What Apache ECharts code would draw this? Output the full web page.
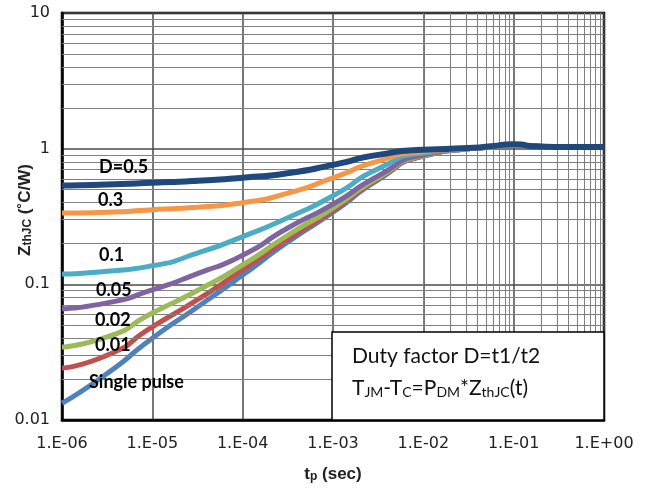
<!DOCTYPE html>
<html><head><meta charset="utf-8">
<script src="https://cdn.jsdelivr.net/npm/echarts@6/dist/echarts.min.js"></script>
<style>html,body{margin:0;padding:0;background:#fff}#c{width:650px;height:489px}</style>
</head><body><div id="c"></div>
<script>
// pulse width t_p (sec)
const tp = [1e-6, 3.16e-6, 1e-5, 3.16e-5, 1e-4, 3.16e-4, 1e-3, 3.16e-3, 1e-2, 3.16e-2, 5.6e-2, 1e-1, 1.78e-1, 3.16e-1, 1];
// Z_thJC (°C/W) per duty factor
const dSingle = [0.0133, 0.022, 0.040, 0.068, 0.117, 0.205, 0.34, 0.59, 0.88, 1.0, 1.03, 1.07, 1.04, 1.03, 1.03];
const d001 = [0.0242, 0.030, 0.0486, 0.077, 0.128, 0.215, 0.35, 0.60, 0.88, 1.0, 1.03, 1.07, 1.04, 1.03, 1.03];
const d002 = [0.0345, 0.041, 0.0615, 0.090, 0.139, 0.230, 0.365, 0.61, 0.89, 1.0, 1.03, 1.07, 1.04, 1.03, 1.03];
const d005 = [0.066, 0.073, 0.091, 0.120, 0.164, 0.26, 0.39, 0.63, 0.90, 1.0, 1.03, 1.07, 1.04, 1.03, 1.03];
const d01 = [0.119, 0.125, 0.137, 0.170, 0.225, 0.31, 0.45, 0.71, 0.93, 1.0, 1.03, 1.07, 1.04, 1.03, 1.03];
const d03 = [0.335, 0.34, 0.355, 0.37, 0.40, 0.47, 0.61, 0.81, 0.95, 1.0, 1.03, 1.07, 1.04, 1.03, 1.03];
const d05 = [0.535, 0.545, 0.56, 0.58, 0.61, 0.66, 0.76, 0.90, 0.98, 1.01, 1.04, 1.08, 1.04, 1.03, 1.03];

const seriesNames = ['Single pulse', '0.01', '0.02', '0.05', '0.1', '0.3', 'D=0.5'];
const seriesColors = ['#4F81BD', '#C0504D', '#9BBB59', '#8064A2', '#4BACC6', '#F79646', '#1F497D'];
const seriesData = [dSingle, d001, d002, d005, d01, d03, d05];

const xMinorMantissa = [2, 3, 4, 5, 6, 7, 8, 9];
const xDecades = [-6, -5, -4, -3, -2, -1];
const yDecades = [-2, -1, 0];

const yTickLabels = {'-2': '0.01', '-1': '0.1', '0': '1', '1': '10'};

const xMinor = [];
xDecades.forEach(e => xMinorMantissa.forEach(m => xMinor.push({xAxis: Number((m * Math.pow(10, e)).toPrecision(3))})));
const yMinor = [];
yDecades.forEach(e => xMinorMantissa.forEach(m => yMinor.push({yAxis: Number((m * Math.pow(10, e)).toPrecision(3))})));

function fmtX(v) {
  const e = Math.round(Math.log10(v));
  const a = Math.abs(e);
  return '1.E' + (e < 0 ? '-' : '+') + (a < 10 ? '0' + a : a);
}
function fmtY(v) {
  const e = Math.round(Math.log10(v));
  return yTickLabels[String(e)] || String(v);
}

const chart = echarts.init(document.getElementById('c'), null, {renderer: 'canvas'});

const series = [{
  type: 'line', data: [], z: 1, silent: true,
  markLine: {
    silent: true, symbol: ['none', 'none'], animation: false,
    label: {show: false},
    emphasis: {disabled: true},
    lineStyle: {type: 'solid', color: '#808080', width: 1},
    data: xMinor.concat(yMinor)
  }
}];
seriesData.forEach((d, i) => {
  series.push({
    name: seriesNames[i], type: 'line', smooth: 0.7, showSymbol: false, symbol: 'none',
    z: 3 + i, animation: false,
    lineStyle: {color: seriesColors[i], width: i === 6 ? 6 : 5},
    data: tp.map((t, k) => [t, d[k]])
  });
});

const labelFont = 'Lato, "Open Sans", sans-serif';
const axisFont = '"Liberation Sans", Arial, sans-serif';
const curveLabels = [
  {t: 'D=0.5', x: 99, y: 169},
  {t: '0.3', x: 98, y: 202},
  {t: '0.1', x: 99, y: 257},
  {t: '0.05', x: 96, y: 292},
  {t: '0.02', x: 95, y: 322},
  {t: '0.01', x: 95, y: 347},
  {t: 'Single pulse', x: 89, y: 384}
];
const graphics = curveLabels.map(l => ({
  type: 'text', left: l.x, top: l.y - 11, z: 50,
  style: {text: l.t, fill: '#000', font: 'bold 18px ' + labelFont}
}));
graphics.push({
  type: 'rect', z: 100,
  shape: {x: 332, y: 332, width: 272, height: 88},
  style: {fill: '#fff', stroke: '#000', lineWidth: 1.5}
});
graphics.push({
  type: 'text', left: 352, top: 346, z: 101,
  style: {text: 'Duty factor D=t1/t2', fill: '#111', font: '21px ' + labelFont}
});
graphics.push({
  type: 'text', left: 352, top: 378, z: 101,
  style: {
    text: '{m|T}{s|JM}{m|-T}{s|C}{m|=P}{s|DM}{m|*Z}{s|thJC}{m|(t)}',
    rich: {
      m: {fontSize: 21, fontFamily: labelFont, fill: '#111', lineHeight: 26, verticalAlign: 'bottom'},
      s: {fontSize: 14, fontFamily: labelFont, fill: '#111', lineHeight: 14, verticalAlign: 'bottom'}
    }
  }
});
// y axis title
graphics.push({
  type: 'text', x: 23, y: 210, rotation: Math.PI / 2, z: 50,
  style: {
    text: '{b|Z}{s|thJC}{b| (˚C/W)}', align: 'center', verticalAlign: 'middle',
    rich: {
      b: {fontSize: 17, fontWeight: 'bold', fontFamily: axisFont, fill: '#222', verticalAlign: 'bottom', lineHeight: 22},
      s: {fontSize: 12, fontWeight: 'bold', fontFamily: axisFont, fill: '#222', verticalAlign: 'bottom', lineHeight: 14}
    }
  }
});

chart.setOption({
  animation: false,
  backgroundColor: '#fff',
  grid: {left: 62, top: 13, right: 46, bottom: 69, outerBoundsMode: 'none', containLabel: false, show: true, borderColor: '#000', borderWidth: 2.5, backgroundColor: 'transparent'},
  xAxis: {
    type: 'log', logBase: 10, min: 1e-6, max: 1, splitNumber: 6,
    name: '{b|t}{s|p}{b| (sec)}', nameLocation: 'middle', nameGap: 41,
    nameTextStyle: {rich: {
      b: {fontSize: 17, fontWeight: 'bold', fontFamily: axisFont, color: '#222', verticalAlign: 'bottom', lineHeight: 22},
      s: {fontSize: 12, fontWeight: 'bold', fontFamily: axisFont, color: '#222', verticalAlign: 'bottom', lineHeight: 14}
    }},
    axisLine: {show: true, lineStyle: {color: '#000', width: 2.5}},
    axisTick: {show: false},
    axisLabel: {formatter: fmtX, fontSize: 16, fontFamily: 'DejaVu Sans, Verdana, sans-serif', color: '#222', margin: 16},
    splitLine: {show: true, lineStyle: {color: '#4a4a4a', width: 1.5}}
  },
  yAxis: {
    type: 'log', logBase: 10, min: 0.01, max: 10, splitNumber: 3,
    axisLine: {show: true, lineStyle: {color: '#000', width: 2.5}},
    axisTick: {show: false},
    axisLabel: {formatter: fmtY, fontSize: 16, fontFamily: 'DejaVu Sans, Verdana, sans-serif', color: '#222', margin: 12},
    splitLine: {show: true, lineStyle: {color: '#4a4a4a', width: 1.5}}
  },
  series: series,
  graphic: graphics
});
</script></body></html>
